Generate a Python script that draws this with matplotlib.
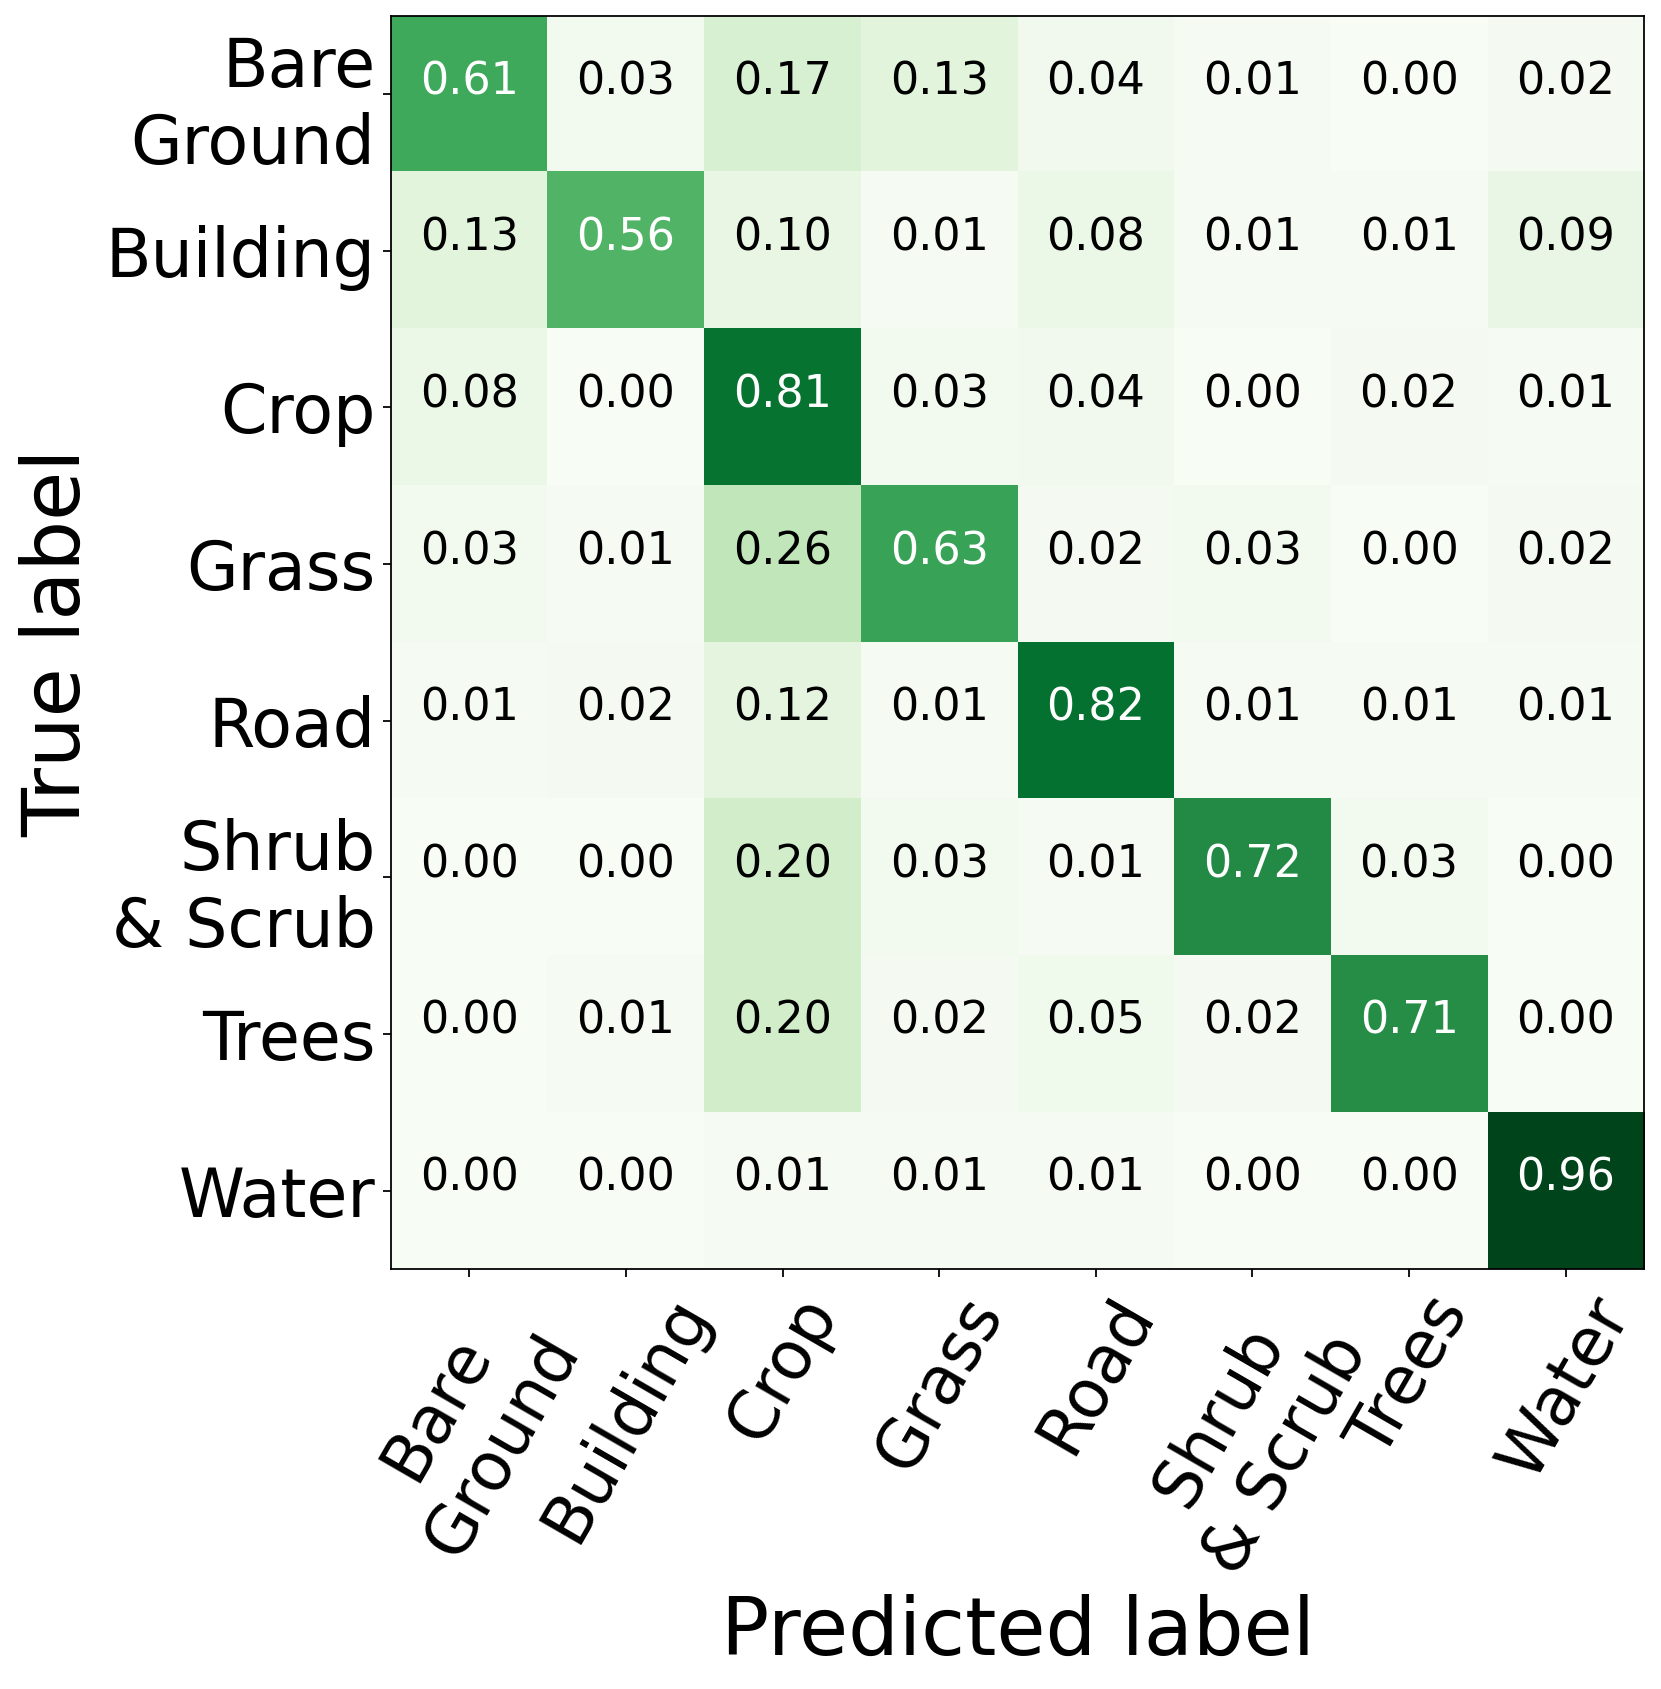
import numpy as np
from matplotlib import pyplot as plt

classes = ['Bare\nGround', 'Building', 'Crop', 'Grass', 'Road',
           'Shrub\n& Scrub', 'Trees', 'Water']

# rows = true label, columns = predicted label
row_bare = [0.61, 0.03, 0.17, 0.13, 0.04, 0.01, 0.00, 0.02]
row_building = [0.13, 0.56, 0.10, 0.01, 0.08, 0.01, 0.01, 0.09]
row_crop = [0.08, 0.00, 0.81, 0.03, 0.04, 0.00, 0.02, 0.01]
row_grass = [0.03, 0.01, 0.26, 0.63, 0.02, 0.03, 0.00, 0.02]
row_road = [0.01, 0.02, 0.12, 0.01, 0.82, 0.01, 0.01, 0.01]
row_shrub = [0.00, 0.00, 0.20, 0.03, 0.01, 0.72, 0.03, 0.00]
row_trees = [0.00, 0.01, 0.20, 0.02, 0.05, 0.02, 0.71, 0.00]
row_water = [0.00, 0.00, 0.01, 0.01, 0.01, 0.00, 0.00, 0.96]


def main():
    cm = np.array([row_bare, row_building, row_crop, row_grass,
                   row_road, row_shrub, row_trees, row_water])
    n = len(classes)

    dpi = 160
    fig = plt.figure(figsize=(1661 / dpi, 1689 / dpi), dpi=dpi)
    ax = fig.add_axes([0.2354, 0.2487, 0.7544, 0.7419])

    ax.imshow(cm, cmap='Greens', interpolation='nearest', aspect='auto')

    # white text on dark cells
    thresh = (cm.max() + cm.min()) / 2.0
    for i in range(n):
        for j in range(n):
            color = 'white' if cm[i, j] > thresh else 'black'
            ax.text(j, i - 0.08, f"{cm[i, j]:.2f}", ha='center', va='center',
                    color=color, fontsize=20)

    ax.set_xticks(np.arange(n))
    ax.set_yticks(np.arange(n))
    ax.set_xticklabels(classes, rotation=60, ha='center', fontsize=30)
    ax.set_yticklabels(classes, fontsize=30)
    ax.tick_params(axis='x', pad=4)
    ax.set_xlabel('Predicted label', fontsize=36)
    ax.set_ylabel('True label', fontsize=36)

    fig.savefig('out.png', dpi=dpi)


if __name__ == '__main__':
    main()
